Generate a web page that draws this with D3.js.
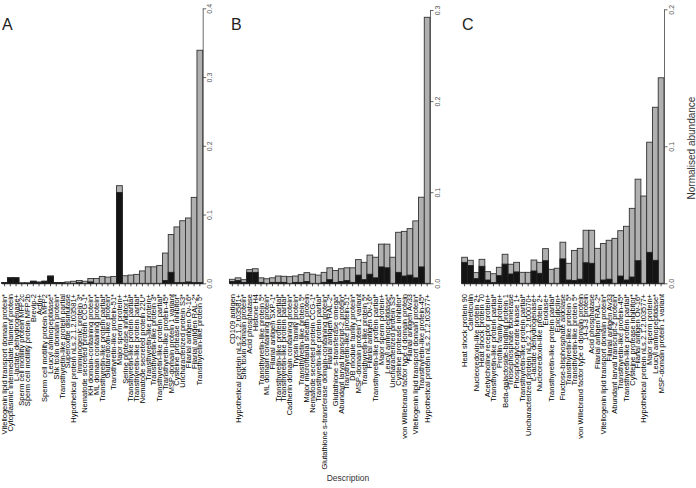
<!DOCTYPE html>
<html><head><meta charset="utf-8">
<script src="https://cdn.jsdelivr.net/npm/d3@7"></script>
<style>body{margin:0;background:#fff}svg{display:block}</style>
</head><body>
<svg id="c" width="696" height="488"></svg>
<script>
const catsA = ["Vitellogenin lipid transport domain protein*","Cytoplasmic intermediate filament protein","L-lactate dehydrogenase+","Sperm cell motility protein MFP2c","Sperm cell motility protein MFP2b","Brevip-2","Actin+","Sperm cell motility protein MFP2","Leucyl aminopeptidase*","Shk toxin domain protein*","Transthyretin-like protein partial","Superoxide dismutase","Hypothetical protein nLs.2.1.2.t03581+","Immunogenic protein 3*","Nematode secreted protein CCG-1*","KH domain-containing protein*","ML domain containing protein*","Transthyretin-like protein partial*","Glutaredoxin-like protein*","Transthyretin-like protein-51*","Major sperm protein+","Serine protease inhibitor1+","Transthyretin-like protein partial*","Transthyretin-like protein partial*","Nematode secreted protein 22U*","Transthyretin-like protein+","Transthyretin-like protein 3*","Transthyretin-like protein partial*","Transthyretin-like protein-45*","MSP-domain protein 1 variant","Cysteine protease inhibitor*","Uncharacterized protein S3*","Filarial antigen Ov-16*","Filarial antigen RAL-2*","Transthyretin-like protein 5*"];
const totalA = [0.001,0.008,0.008,0.0005,0.0005,0.003,0.002,0.003,0.0105,0.001,0.001,0.002,0.003,0.004,0.003,0.007,0.007,0.010,0.009,0.010,0.142,0.011,0.012,0.013,0.018,0.024,0.024,0.026,0.044,0.071,0.082,0.091,0.095,0.125,0.339];
const blackA = [0.001,0.008,0.008,0.0005,0.0005,0.003,0.001,0.003,0.0105,0.001,0.001,0,0,0.001,0,0.002,0,0,0,0,0.132,0,0,0,0,0,0,0,0.004,0.016,0.001,0.001,0.002,0.001,0.001];

const catsB = ["CD109 antigen","Hypothetical protein nLs.2.1.2.t03581+","Shk toxin domain protein*","Acid phosphatase","Histone H4","Transthyretin-like protein 5*","ML domain containing protein*","Filarial antigen SXP-1*","Transthyretin-like protein partial*","Transthyretin-like protein partial*","Cadherin domain containing protein*","Trypsin family protein*","Transthyretin-like protein 5*","Major microfilarial sheath protein","Nematode secreted protein CCG-1*","Transthyretin-like protein partial*","Glutathione s-transferase domain-containing protein*","Filarial antigen RAL-2*","Glutathione s-transferase omega*","Abundant larval transcript-2 protein*","Transthyretin-like protein-51*","DB module family protein*","MSP-domain protein 1 variant","Transthyretin-like protein 5*","Filarial antigen Ov-16*","Transthyretin-like protein partial*","Major sperm protein+","Leucyl aminopeptidase*","Uncharacterized protein S3*","Cysteine protease inhibitor*","von Willebrand factor type d domain protein","Filarial antigen Av33","Vitellogenin lipid transport domain protein*","Transthyretin-like protein-45*","Hypothetical protein nLs.2.1.2.t03577+"];
const totalB = [0.0044,0.006,0.004,0.015,0.016,0.006,0.005,0.006,0.008,0.0077,0.0073,0.008,0.0095,0.0117,0.010,0.009,0.012,0.017,0.014,0.016,0.017,0.017,0.026,0.023,0.031,0.0286,0.043,0.043,0.0286,0.056,0.057,0.060,0.0685,0.0945,0.292];
const blackB = [0.002,0.003,0.001,0.012,0.012,0.001,0,0.001,0.001,0.001,0,0.001,0.001,0.002,0,0,0.001,0.004,0.001,0.002,0.003,0.001,0.009,0.004,0.010,0.006,0.018,0.017,0,0.012,0.008,0.009,0.006,0.018,0];

const catsC = ["Heat shock protein 90","Calreticulin","Nucleoredoxin-like protein 2+","Heat shock protein 70","Acetylcholine receptor protein+","Transthyretin-like protein partial*","Profilin family protein+","Beta-galactoside-binding protein 1","Triosephosphate isomerase","Phosphoglycerate kinase 1+","Transthyretin-like protein partial*","Uncharacterized protein nLs.2.1.2.t00070+","L-lactate dehydrogenase+","Nucleoredoxin-like protein 2+","Enolase+","Transthyretin-like protein partial*","Epicuticlin+","Fructose-bisphosphate aldolase","Transthyretin-like protein 5*","Transthyretin-like protein 5*","von Willebrand factor type d domain protein","14-3-3 protein","Acid phosphatase","Filarial antigen RAL-2*","Vitellogenin lipid transport domain protein*","Filarial antigen Av33","Abundant larval transcript-2 protein*","Transthyretin-like protein-45*","Transthyretin-like protein partial*","Cysteine protease inhibitor*","Filarial antigen Ov-16*","Hypothetical protein nLs.2.1.2.t03577+","Major sperm protein+","Leucyl aminopeptidase*","MSP-domain protein 1 variant"];
const totalC = [0.019,0.0168,0.0078,0.0175,0.0085,0.007,0.0117,0.0212,0.0139,0.0153,0.008,0.008,0.017,0.0153,0.0253,0.0102,0.011,0.030,0.0146,0.024,0.0255,0.0387,0.0387,0.0255,0.029,0.0314,0.0328,0.0384,0.0416,0.0547,0.076,0.0637,0.103,0.1285,0.150];
const blackC = [0.0153,0.013,0.0034,0.0124,0.0024,0.0005,0.0056,0.014,0.0068,0.0083,0,0,0.009,0.0073,0.0165,0,0,0.0178,0.0024,0.002,0.003,0.015,0.0146,0,0.0024,0.003,0,0.0053,0.0024,0.0046,0.0165,0,0.0226,0.0168,0];

const ticksA = [0,0.1,0.2,0.3,0.4];
const ticksB = [0,0.1,0.2,0.3];
const ticksC = [0,0.1,0.2];

const svg = d3.select("#c");
const FONT = "'Liberation Sans', Arial, sans-serif";
const base = 283.3;

const panels = [
  {letter:"A", cats:catsA, total:totalA, black:blackA, ticks:ticksA, x0:1.7, x1:202.7, top:8.3, lx:2},
  {letter:"B", cats:catsB, total:totalB, black:blackB, ticks:ticksB, x0:229.5, x1:430, top:10, lx:231},
  {letter:"C", cats:catsC, total:totalC, black:blackC, ticks:ticksC, x0:461.7, x1:664, top:9.3, lx:462}
];

panels.forEach(p => {
  const g = svg.append("g");
  const idx = d3.range(p.cats.length);
  const x = d3.scaleBand().domain(idx).range([p.x0, p.x1]).padding(0);
  const ymax = p.ticks[p.ticks.length-1];
  const y = d3.scaleLinear().domain([0, ymax]).range([base, p.top]);

  g.selectAll("rect.t").data(idx).join("rect")
    .attr("x", i => x(i)).attr("width", x.bandwidth())
    .attr("y", i => y(p.total[i])).attr("height", i => base - y(p.total[i]))
    .attr("fill", "#b0b0b0").attr("stroke", "#333").attr("stroke-width", 0.9);
  g.selectAll("rect.b").data(idx.filter(i => p.black[i] > 0)).join("rect")
    .attr("x", i => x(i)).attr("width", x.bandwidth())
    .attr("y", i => y(p.black[i])).attr("height", i => base - y(p.black[i]))
    .attr("fill", "#141414").attr("stroke", "#222").attr("stroke-width", 0.9);

  const xa = g.append("g").attr("transform", `translate(0,${base})`)
    .call(d3.axisBottom(x).tickSize(3).tickSizeOuter(0).tickFormat(""));
  xa.select(".domain").attr("stroke", "#222").attr("stroke-width", 0.8);
  xa.selectAll(".tick line").attr("stroke", "#222").attr("stroke-width", 0.8);

  g.selectAll("text.cat").data(idx).join("text")
    .attr("transform", i => `translate(${x(i) + x.bandwidth()/2},294) rotate(-90)`)
    .attr("text-anchor", "end").attr("dominant-baseline", "central")
    .attr("font-family", FONT).attr("font-size", 7.5).attr("fill", "#000")
    .text(i => p.cats[i]);

  const ya = g.append("g").attr("transform", `translate(${p.x1},0)`)
    .call(d3.axisRight(y).tickValues(p.ticks).tickSize(3.5).tickSizeOuter(0).tickFormat(d3.format(".1f")));
  ya.select(".domain").attr("stroke", "#444").attr("stroke-width", 0.8);
  ya.selectAll(".tick line").attr("stroke", "#444").attr("stroke-width", 0.8);
  ya.selectAll(".tick text")
    .attr("x", 0).attr("dy", null).attr("y", 0)
    .attr("transform", "translate(7,0) rotate(-90)")
    .attr("text-anchor", "middle").attr("dominant-baseline", "central")
    .attr("font-family", FONT).attr("font-size", 7).attr("fill", "#555");

  svg.append("text").attr("x", p.lx).attr("y", 30)
    .attr("font-family", FONT).attr("font-size", 16).attr("fill", "#222").text(p.letter);
});

svg.append("text").attr("transform", "translate(691,148) rotate(-90)")
  .attr("text-anchor", "middle").attr("dominant-baseline", "central")
  .attr("font-family", FONT).attr("font-size", 10).attr("fill", "#333").text("Normalised abundance");
svg.append("text").attr("x", 348).attr("y", 481).attr("text-anchor", "middle")
  .attr("font-family", FONT).attr("font-size", 8.5).attr("fill", "#333").text("Description");
</script>
</body></html>
